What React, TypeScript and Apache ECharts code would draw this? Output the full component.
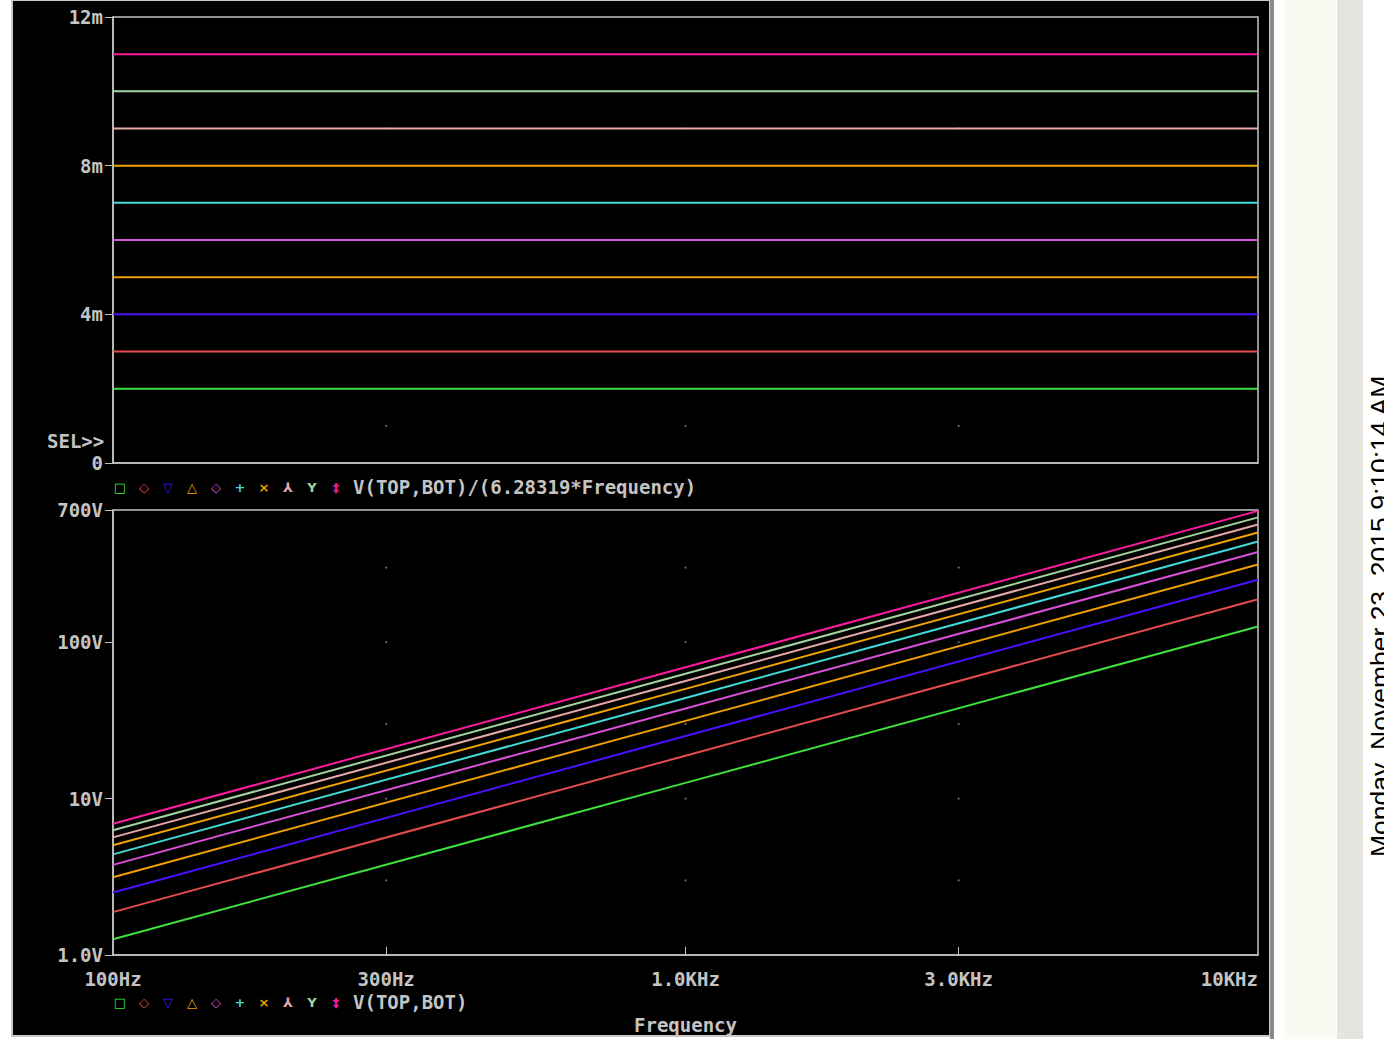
import React, { useEffect, useRef } from "react";
import * as echarts from "echarts";

// ---- data ----
const inductanceMilli = [2, 3, 4, 5, 6, 7, 8, 9, 10, 11];
const sweepFreqs = [100, 1000, 10000];
const voltsAt100Hz = [1.26, 1.88, 2.51, 3.14, 3.77, 4.4, 5.03, 5.65, 6.28, 6.91];
const voltsAt1kHz = [12.6, 18.8, 25.1, 31.4, 37.7, 44.0, 50.3, 56.5, 62.8, 69.1];
const voltsAt10kHz = [126, 188, 251, 314, 377, 440, 503, 565, 628, 691];
const traceColors = [
  "#3ee03e", "#e44c4c", "#4a10ff", "#f0a000", "#d850d8",
  "#40dada", "#f0a400", "#e8a8a8", "#a0d4a0", "#ff1aa0",
];
const legendGlyphs = ["□", "◇", "▽", "△", "◇", "+", "×", "⅄", "Y", "‡"];
const topTicks = [0, 0.004, 0.008, 0.012];
const bottomTicks = [1, 10, 100, 700];
const freqTicks = [100, 300, 1000, 3000, 10000];
const freqTickLabels: Record<number, string> = { 100: "100Hz", 300: "300Hz", 1000: "1.0KHz", 3000: "3.0KHz", 10000: "10KHz" };
const voltTickLabels: Record<number, string> = { 1: "1.0V", 10: "10V", 100: "100V", 700: "700V" };
const gridDotFreqs = [300, 1000, 3000];
const topGridDotVals = [0.001, 0.009];
const bottomGridDotVals = [3, 10, 30, 100, 300];
const topTraceLabel = "V(TOP,BOT)/(6.28319*Frequency)";
const bottomTraceLabel = "V(TOP,BOT)";
const timestamp = "Monday, November 23, 2015 9:10:14 AM";

const FONT = "'DejaVu Sans Mono', monospace";
const GREY = "#c4c4c4";
const FS = 19;

export default function App() {
  const ref = useRef<HTMLDivElement>(null);
  useEffect(() => {
    document.body.style.margin = "0";
    const chart = echarts.init(ref.current!, undefined, { renderer: "svg" });

    const labelStyle = { color: GREY, fontFamily: FONT, fontWeight: "bold" as const, fontSize: FS };

    const series: any[] = [];
    inductanceMilli.forEach((L, i) => {
      series.push({
        type: "line",
        xAxisIndex: 0,
        yAxisIndex: 0,
        showSymbol: false,
        silent: true,
        lineStyle: { color: traceColors[i], width: 2 },
        data: [[sweepFreqs[0], L / 1000], [sweepFreqs[2], L / 1000]],
      });
      const vals = [voltsAt100Hz[i], voltsAt1kHz[i], voltsAt10kHz[i]];
      series.push({
        type: "line",
        xAxisIndex: 1,
        yAxisIndex: 1,
        showSymbol: false,
        silent: true,
        lineStyle: { color: traceColors[i], width: 2 },
        data: sweepFreqs.map((f, k) => [f, vals[k]]),
      });
    });
    const topDots: number[][] = [];
    gridDotFreqs.forEach((f) => topGridDotVals.forEach((v) => topDots.push([f, v])));
    const botDots: number[][] = [];
    gridDotFreqs.forEach((f) => bottomGridDotVals.forEach((v) => botDots.push([f, v])));
    series.push({ type: "scatter", xAxisIndex: 0, yAxisIndex: 0, symbolSize: 2, itemStyle: { color: "#8a8a8a" }, data: topDots, silent: true });
    series.push({ type: "scatter", xAxisIndex: 1, yAxisIndex: 1, symbolSize: 2, itemStyle: { color: "#8a8a8a" }, data: botDots, silent: true });

    const legendRow = (y: number, label: string) => [
      ...legendGlyphs.map((g, i) => ({
        type: "text",
        x: 120 + i * 24,
        y,
        z: 100,
        style: { text: g, fill: traceColors[i], font: "bold 13px 'DejaVu Sans'", textAlign: "center", textVerticalAlign: "middle" },
      })),
      {
        type: "text",
        x: 353,
        y,
        z: 100,
        style: { text: label, fill: GREY, font: `bold ${FS}px ${FONT}`, textAlign: "left", textVerticalAlign: "middle" },
      },
    ];

    const axisLineStyle = { lineStyle: { color: GREY, width: 1.5 } };

    chart.setOption({
      animation: false,
      backgroundColor: "#ffffff",
      grid: [
        { left: 113, top: 17, width: 1145, height: 446, show: true, borderColor: GREY, borderWidth: 1.5, backgroundColor: "#000" },
        { left: 113, top: 510, width: 1145, height: 445, show: true, borderColor: GREY, borderWidth: 1.5, backgroundColor: "#000" },
      ],
      xAxis: [
        {
          type: "log", gridIndex: 0, min: 100, max: 10000, logBase: 10,
          axisLine: axisLineStyle, axisTick: { show: false }, axisLabel: { show: false }, splitLine: { show: false },
        },
        {
          type: "log", gridIndex: 1, min: 100, max: 10000, logBase: 10,
          axisLine: axisLineStyle,
          axisTick: { show: true, inside: true, length: 8, lineStyle: { color: GREY }, customValues: [300, 1000, 3000] },
          axisLabel: { ...labelStyle, margin: 14, customValues: freqTicks, formatter: (v: number) => freqTickLabels[Math.round(v)] ?? "", alignMaxLabel: "right" },
          splitLine: { show: false },
          name: "Frequency",
          nameLocation: "middle",
          nameGap: 60,
          nameTextStyle: { ...labelStyle },
        },
      ],
      yAxis: [
        {
          type: "value", gridIndex: 0, min: 0, max: 0.012,
          axisLine: { show: true, ...axisLineStyle },
          axisTick: { show: true, length: 8, lineStyle: { color: GREY }, customValues: topTicks },
          axisLabel: { ...labelStyle, margin: 10, customValues: topTicks, formatter: (v: number) => (v === 0 ? "0" : Math.round(v * 1000) + "m") },
          splitLine: { show: false },
        },
        {
          type: "log", gridIndex: 1, min: 1, max: 700, logBase: 10,
          axisLine: { show: true, ...axisLineStyle },
          axisTick: { show: true, length: 8, lineStyle: { color: GREY }, customValues: bottomTicks },
          axisLabel: { ...labelStyle, margin: 10, customValues: bottomTicks, formatter: (v: number) => voltTickLabels[Math.round(v)] ?? "" },
          splitLine: { show: false },
        },
      ],
      series,
      graphic: [
        { type: "rect", z: -10, shape: { x: 12, y: 0, width: 1258, height: 1036 }, style: { fill: "#000", stroke: "#c8c8c8", lineWidth: 2 } },
        { type: "rect", z: -10, shape: { x: 1270, y: 0, width: 4, height: 1039 }, style: { fill: "#8a8a8a" } },
        { type: "rect", z: -10, shape: { x: 1284, y: 0, width: 52, height: 1039 }, style: { fill: "#fafaf2" } },
        { type: "rect", z: -10, shape: { x: 1337, y: 0, width: 26, height: 1039 }, style: { fill: "#e6e4de" } },
        {
          type: "text", x: 47, y: 441, z: 100,
          style: { text: "SEL>>", fill: GREY, font: `bold ${FS}px ${FONT}`, textAlign: "left", textVerticalAlign: "middle" },
        },
        ...legendRow(487, topTraceLabel),
        ...legendRow(1002, bottomTraceLabel),
        {
          type: "text", x: 1393, y: 857, rotation: Math.PI / 2, z: 100,
          style: { text: timestamp, fill: "#000", font: "26.5px 'Liberation Sans', Arial, sans-serif", textAlign: "left", textVerticalAlign: "bottom" },
        },
      ],
    });
    return () => chart.dispose();
  }, []);
  return <div ref={ref} style={{ position: "absolute", left: 0, top: 0, width: 1384, height: 1039 }} />;
}
